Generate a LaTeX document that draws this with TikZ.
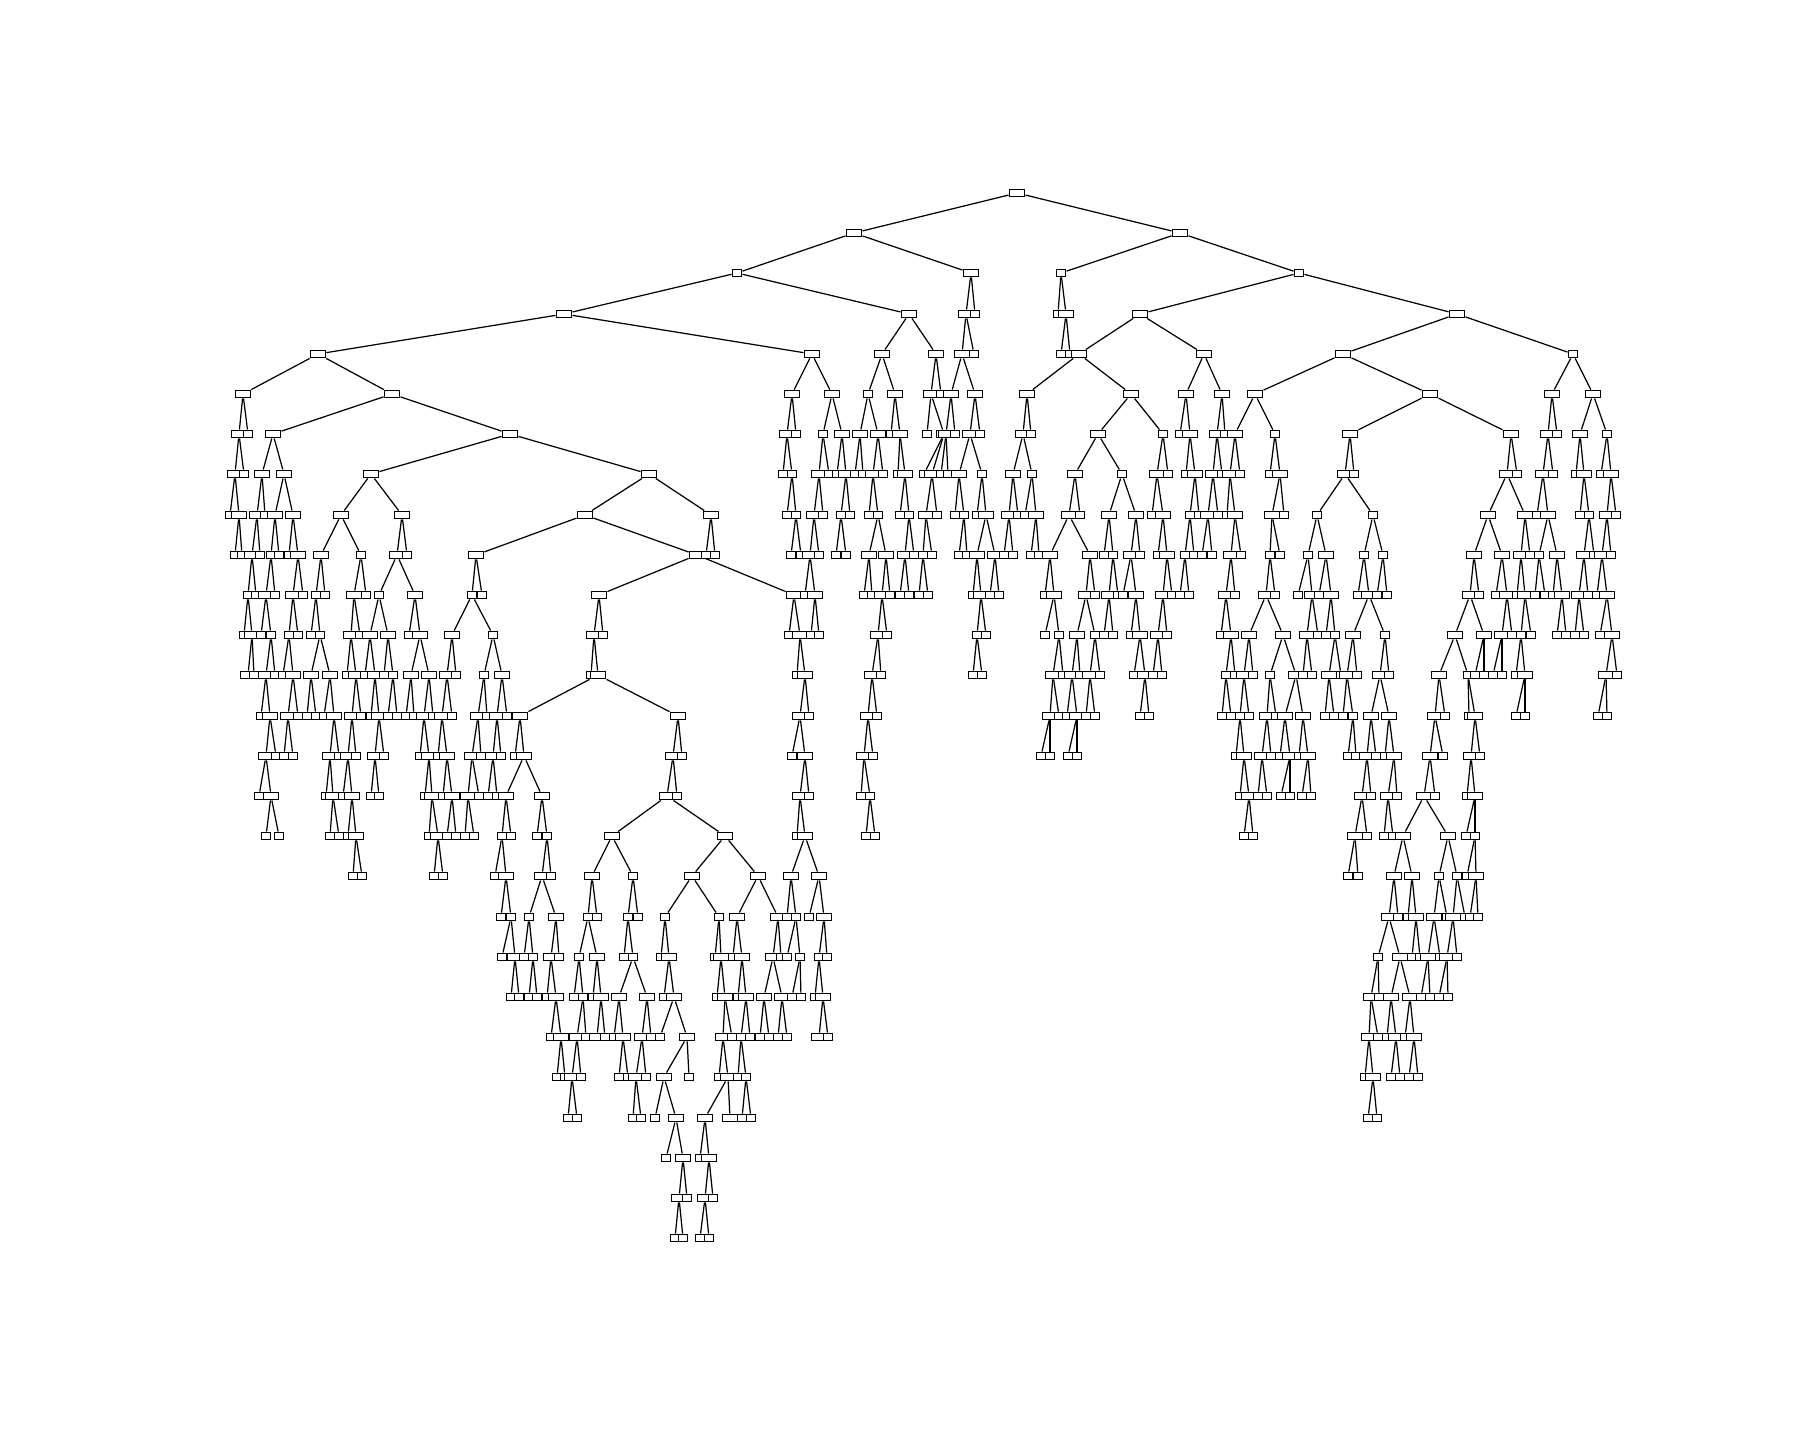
\documentclass[tikz,border=0pt]{standalone}
\usepackage{tikz}

\tikzset{
  leaf/.style={draw,fill=white,line width=0.55pt,inner sep=0pt,minimum width=0.9mm,minimum height=0.7mm},
  split/.style={leaf,minimum width=1.5mm},
}

\begin{document}
\begin{tikzpicture}[x=0.1mm,y=-0.1mm,line width=0.35pt]
\useasboundingbox (0,0) rectangle (1800,1440);
% level 0-4
\node[split] (n0x1017) at (1017,193) {};
\node[split] (n1x854) at (854,233) {};
\draw (n0x1017) -- (n1x854);
\node[split] (n1x1180) at (1180,233) {};
\draw (n0x1017) -- (n1x1180);
\node[leaf] (n2x737) at (737,273) {};
\draw (n1x854) -- (n2x737);
\node[split] (n2x971) at (971,273) {};
\draw (n1x854) -- (n2x971);
\node[leaf] (n2x1061) at (1061,273) {};
\draw (n1x1180) -- (n2x1061);
\node[leaf] (n2x1299) at (1299,273) {};
\draw (n1x1180) -- (n2x1299);
\node[split] (n3x564) at (564,314) {};
\draw (n2x737) -- (n3x564);
\node[split] (n3x909) at (909,314) {};
\draw (n2x737) -- (n3x909);
\node[split] (n3x966) at (966,314) {};
\draw (n2x971) -- (n3x966);
\node[leaf] (n3x975) at (975,314) {};
\draw (n2x971) -- (n3x975);
\node[leaf] (n3x1058) at (1058,314) {};
\draw (n2x1061) -- (n3x1058);
\node[split] (n3x1066) at (1066,314) {};
\draw (n2x1061) -- (n3x1066);
\node[split] (n3x1140) at (1140,314) {};
\draw (n2x1299) -- (n3x1140);
\node[split] (n3x1457) at (1457,314) {};
\draw (n2x1299) -- (n3x1457);
\node[split] (n4x318) at (318,354) {};
\draw (n3x564) -- (n4x318);
\node[split] (n4x812) at (812,354) {};
\draw (n3x564) -- (n4x812);
\node[split] (n4x882) at (882,354) {};
\draw (n3x909) -- (n4x882);
\node[split] (n4x936) at (936,354) {};
\draw (n3x909) -- (n4x936);
\node[split] (n4x962) at (962,354) {};
\draw (n3x966) -- (n4x962);
\node[leaf] (n4x974) at (974,354) {};
\draw (n3x966) -- (n4x974);
\node[leaf] (n4x1061) at (1061,354) {};
\draw (n3x1066) -- (n4x1061);
\node[leaf] (n4x1070) at (1070,354) {};
\draw (n3x1066) -- (n4x1070);
\node[split] (n4x1079) at (1079,354) {};
\draw (n3x1140) -- (n4x1079);
\node[split] (n4x1204) at (1204,354) {};
\draw (n3x1140) -- (n4x1204);
\node[split] (n4x1343) at (1343,354) {};
\draw (n3x1457) -- (n4x1343);
\node[leaf] (n4x1573) at (1573,354) {};
\draw (n3x1457) -- (n4x1573);
% level 5
\node[split] (n5x243) at (243,394) {};
\draw (n4x318) -- (n5x243);
\node[split] (n5x392) at (392,394) {};
\draw (n4x318) -- (n5x392);
\node[split] (n5x792) at (792,394) {};
\draw (n4x812) -- (n5x792);
\node[split] (n5x832) at (832,394) {};
\draw (n4x812) -- (n5x832);
\node[leaf] (n5x868) at (868,394) {};
\draw (n4x882) -- (n5x868);
\node[split] (n5x895) at (895,394) {};
\draw (n4x882) -- (n5x895);
\node[split] (n5x931) at (931,394) {};
\draw (n4x936) -- (n5x931);
\node[leaf] (n5x941) at (941,394) {};
\draw (n4x936) -- (n5x941);
\node[split] (n5x951) at (951,394) {};
\draw (n4x962) -- (n5x951);
\node[split] (n5x975) at (975,394) {};
\draw (n4x962) -- (n5x975);
\node[split] (n5x1027) at (1027,394) {};
\draw (n4x1079) -- (n5x1027);
\node[split] (n5x1131) at (1131,394) {};
\draw (n4x1079) -- (n5x1131);
\node[split] (n5x1186) at (1186,394) {};
\draw (n4x1204) -- (n5x1186);
\node[split] (n5x1222) at (1222,394) {};
\draw (n4x1204) -- (n5x1222);
\node[split] (n5x1255) at (1255,394) {};
\draw (n4x1343) -- (n5x1255);
\node[split] (n5x1430) at (1430,394) {};
\draw (n4x1343) -- (n5x1430);
\node[split] (n5x1552) at (1552,394) {};
\draw (n4x1573) -- (n5x1552);
\node[split] (n5x1593) at (1593,394) {};
\draw (n4x1573) -- (n5x1593);
% level 6
\node[split] (n6x239) at (239,434) {};
\draw (n5x243) -- (n6x239);
\node[leaf] (n6x248) at (248,434) {};
\draw (n5x243) -- (n6x248);
\node[split] (n6x273) at (273,434) {};
\draw (n5x392) -- (n6x273);
\node[split] (n6x510) at (510,434) {};
\draw (n5x392) -- (n6x510);
\node[split] (n6x787) at (787,434) {};
\draw (n5x792) -- (n6x787);
\node[leaf] (n6x796) at (796,434) {};
\draw (n5x792) -- (n6x796);
\node[leaf] (n6x823) at (823,434) {};
\draw (n5x832) -- (n6x823);
\node[split] (n6x842) at (842,434) {};
\draw (n5x832) -- (n6x842);
\node[split] (n6x860) at (860,434) {};
\draw (n5x868) -- (n6x860);
\node[split] (n6x878) at (878,434) {};
\draw (n5x868) -- (n6x878);
\node[leaf] (n6x891) at (891,434) {};
\draw (n5x895) -- (n6x891);
\node[split] (n6x900) at (900,434) {};
\draw (n5x895) -- (n6x900);
\node[leaf] (n6x927) at (927,434) {};
\draw (n5x931) -- (n6x927);
\node[split] (n6x944) at (944,434) {};
\draw (n5x931) -- (n6x944);
\node[split] (n6x946) at (946,434) {};
\draw (n5x951) -- (n6x946);
\node[leaf] (n6x955) at (955,434) {};
\draw (n5x951) -- (n6x955);
\node[split] (n6x970) at (970,434) {};
\draw (n5x975) -- (n6x970);
\node[leaf] (n6x980) at (980,434) {};
\draw (n5x975) -- (n6x980);
\node[split] (n6x1023) at (1023,434) {};
\draw (n5x1027) -- (n6x1023);
\node[leaf] (n6x1031) at (1031,434) {};
\draw (n5x1027) -- (n6x1031);
\node[split] (n6x1098) at (1098,434) {};
\draw (n5x1131) -- (n6x1098);
\node[leaf] (n6x1163) at (1163,434) {};
\draw (n5x1131) -- (n6x1163);
\node[leaf] (n6x1180) at (1180,434) {};
\draw (n5x1186) -- (n6x1180);
\node[split] (n6x1190) at (1190,434) {};
\draw (n5x1186) -- (n6x1190);
\node[split] (n6x1217) at (1217,434) {};
\draw (n5x1222) -- (n6x1217);
\node[leaf] (n6x1225) at (1225,434) {};
\draw (n5x1222) -- (n6x1225);
\node[split] (n6x1235) at (1235,434) {};
\draw (n5x1255) -- (n6x1235);
\node[leaf] (n6x1275) at (1275,434) {};
\draw (n5x1255) -- (n6x1275);
\node[split] (n6x1350) at (1350,434) {};
\draw (n5x1430) -- (n6x1350);
\node[split] (n6x1511) at (1511,434) {};
\draw (n5x1430) -- (n6x1511);
\node[split] (n6x1548) at (1548,434) {};
\draw (n5x1552) -- (n6x1548);
\node[leaf] (n6x1557) at (1557,434) {};
\draw (n5x1552) -- (n6x1557);
\node[split] (n6x1580) at (1580,434) {};
\draw (n5x1593) -- (n6x1580);
\node[leaf] (n6x1607) at (1607,434) {};
\draw (n5x1593) -- (n6x1607);
% level 7
\node[split] (n7x235) at (235,474) {};
\draw (n6x239) -- (n7x235);
\node[leaf] (n7x244) at (244,474) {};
\draw (n6x239) -- (n7x244);
\node[split] (n7x262) at (262,474) {};
\draw (n6x273) -- (n7x262);
\node[split] (n7x284) at (284,474) {};
\draw (n6x273) -- (n7x284);
\node[split] (n7x371) at (371,474) {};
\draw (n6x510) -- (n7x371);
\node[split] (n7x649) at (649,474) {};
\draw (n6x510) -- (n7x649);
\node[leaf] (n7x783) at (783,474) {};
\draw (n6x787) -- (n7x783);
\node[leaf] (n7x792) at (792,474) {};
\draw (n6x787) -- (n7x792);
\node[split] (n7x819) at (819,474) {};
\draw (n6x823) -- (n7x819);
\node[leaf] (n7x829) at (829,474) {};
\draw (n6x823) -- (n7x829);
\node[leaf] (n7x837) at (837,474) {};
\draw (n6x842) -- (n7x837);
\node[split] (n7x846) at (846,474) {};
\draw (n6x842) -- (n7x846);
\node[leaf] (n7x855) at (855,474) {};
\draw (n6x860) -- (n7x855);
\node[leaf] (n7x863) at (863,474) {};
\draw (n6x860) -- (n7x863);
\node[split] (n7x873) at (873,474) {};
\draw (n6x878) -- (n7x873);
\node[leaf] (n7x883) at (883,474) {};
\draw (n6x878) -- (n7x883);
\node[leaf] (n7x898) at (898,474) {};
\draw (n6x900) -- (n7x898);
\node[split] (n7x905) at (905,474) {};
\draw (n6x900) -- (n7x905);
\node[leaf] (n7x924) at (924,474) {};
\draw (n6x944) -- (n7x924);
\node[split] (n7x932) at (932,474) {};
\draw (n6x944) -- (n7x932);
\node[leaf] (n7x941) at (941,474) {};
\draw (n6x946) -- (n7x941);
\node[leaf] (n7x948) at (948,474) {};
\draw (n6x946) -- (n7x948);
\node[split] (n7x959) at (959,474) {};
\draw (n6x970) -- (n7x959);
\node[leaf] (n7x982) at (982,474) {};
\draw (n6x970) -- (n7x982);
\node[split] (n7x1013) at (1013,474) {};
\draw (n6x1023) -- (n7x1013);
\node[leaf] (n7x1032) at (1032,474) {};
\draw (n6x1023) -- (n7x1032);
\node[split] (n7x1075) at (1075,474) {};
\draw (n6x1098) -- (n7x1075);
\node[leaf] (n7x1122) at (1122,474) {};
\draw (n6x1098) -- (n7x1122);
\node[split] (n7x1157) at (1157,474) {};
\draw (n6x1163) -- (n7x1157);
\node[leaf] (n7x1168) at (1168,474) {};
\draw (n6x1163) -- (n7x1168);
\node[leaf] (n7x1186) at (1186,474) {};
\draw (n6x1190) -- (n7x1186);
\node[split] (n7x1195) at (1195,474) {};
\draw (n6x1190) -- (n7x1195);
\node[split] (n7x1213) at (1213,474) {};
\draw (n6x1217) -- (n7x1213);
\node[leaf] (n7x1222) at (1222,474) {};
\draw (n6x1217) -- (n7x1222);
\node[split] (n7x1230) at (1230,474) {};
\draw (n6x1235) -- (n7x1230);
\node[leaf] (n7x1240) at (1240,474) {};
\draw (n6x1235) -- (n7x1240);
\node[leaf] (n7x1270) at (1270,474) {};
\draw (n6x1275) -- (n7x1270);
\node[split] (n7x1280) at (1280,474) {};
\draw (n6x1275) -- (n7x1280);
\node[split] (n7x1345) at (1345,474) {};
\draw (n6x1350) -- (n7x1345);
\node[leaf] (n7x1354) at (1354,474) {};
\draw (n6x1350) -- (n7x1354);
\node[split] (n7x1507) at (1507,474) {};
\draw (n6x1511) -- (n7x1507);
\node[leaf] (n7x1517) at (1517,474) {};
\draw (n6x1511) -- (n7x1517);
\node[split] (n7x1543) at (1543,474) {};
\draw (n6x1548) -- (n7x1543);
\node[leaf] (n7x1553) at (1553,474) {};
\draw (n6x1548) -- (n7x1553);
\node[leaf] (n7x1576) at (1576,474) {};
\draw (n6x1580) -- (n7x1576);
\node[split] (n7x1584) at (1584,474) {};
\draw (n6x1580) -- (n7x1584);
\node[leaf] (n7x1601) at (1601,474) {};
\draw (n6x1607) -- (n7x1601);
\node[split] (n7x1611) at (1611,474) {};
\draw (n6x1607) -- (n7x1611);
% level 8
\node[leaf] (n8x230) at (230,515) {};
\draw (n7x235) -- (n8x230);
\node[split] (n8x239) at (239,515) {};
\draw (n7x235) -- (n8x239);
\node[split] (n8x257) at (257,515) {};
\draw (n7x262) -- (n8x257);
\node[leaf] (n8x265) at (265,515) {};
\draw (n7x262) -- (n8x265);
\node[split] (n8x275) at (275,515) {};
\draw (n7x284) -- (n8x275);
\node[split] (n8x293) at (293,515) {};
\draw (n7x284) -- (n8x293);
\node[split] (n8x341) at (341,515) {};
\draw (n7x371) -- (n8x341);
\node[split] (n8x402) at (402,515) {};
\draw (n7x371) -- (n8x402);
\node[split] (n8x585) at (585,515) {};
\draw (n7x649) -- (n8x585);
\node[split] (n8x711) at (711,515) {};
\draw (n7x649) -- (n8x711);
\node[leaf] (n8x787) at (787,515) {};
\draw (n7x792) -- (n8x787);
\node[leaf] (n8x796) at (796,515) {};
\draw (n7x792) -- (n8x796);
\node[split] (n8x814) at (814,515) {};
\draw (n7x819) -- (n8x814);
\node[leaf] (n8x823) at (823,515) {};
\draw (n7x819) -- (n8x823);
\node[leaf] (n8x841) at (841,515) {};
\draw (n7x846) -- (n8x841);
\node[leaf] (n8x850) at (850,515) {};
\draw (n7x846) -- (n8x850);
\node[leaf] (n8x869) at (869,515) {};
\draw (n7x873) -- (n8x869);
\node[leaf] (n8x878) at (878,515) {};
\draw (n7x873) -- (n8x878);
\node[leaf] (n8x900) at (900,515) {};
\draw (n7x905) -- (n8x900);
\node[leaf] (n8x909) at (909,515) {};
\draw (n7x905) -- (n8x909);
\node[split] (n8x926) at (926,515) {};
\draw (n7x932) -- (n8x926);
\node[leaf] (n8x937) at (937,515) {};
\draw (n7x932) -- (n8x937);
\node[leaf] (n8x955) at (955,515) {};
\draw (n7x959) -- (n8x955);
\node[leaf] (n8x964) at (964,515) {};
\draw (n7x959) -- (n8x964);
\node[leaf] (n8x977) at (977,515) {};
\draw (n7x982) -- (n8x977);
\node[split] (n8x986) at (986,515) {};
\draw (n7x982) -- (n8x986);
\node[split] (n8x1009) at (1009,515) {};
\draw (n7x1013) -- (n8x1009);
\node[leaf] (n8x1018) at (1018,515) {};
\draw (n7x1013) -- (n8x1018);
\node[leaf] (n8x1025) at (1025,515) {};
\draw (n7x1032) -- (n8x1025);
\node[split] (n8x1036) at (1036,515) {};
\draw (n7x1032) -- (n8x1036);
\node[split] (n8x1069) at (1069,515) {};
\draw (n7x1075) -- (n8x1069);
\node[leaf] (n8x1080) at (1080,515) {};
\draw (n7x1075) -- (n8x1080);
\node[split] (n8x1109) at (1109,515) {};
\draw (n7x1122) -- (n8x1109);
\node[split] (n8x1136) at (1136,515) {};
\draw (n7x1122) -- (n8x1136);
\node[leaf] (n8x1152) at (1152,515) {};
\draw (n7x1157) -- (n8x1152);
\node[split] (n8x1163) at (1163,515) {};
\draw (n7x1157) -- (n8x1163);
\node[leaf] (n8x1190) at (1190,515) {};
\draw (n7x1195) -- (n8x1190);
\node[leaf] (n8x1199) at (1199,515) {};
\draw (n7x1195) -- (n8x1199);
\node[split] (n8x1208) at (1208,515) {};
\draw (n7x1213) -- (n8x1208);
\node[leaf] (n8x1218) at (1218,515) {};
\draw (n7x1213) -- (n8x1218);
\node[leaf] (n8x1227) at (1227,515) {};
\draw (n7x1230) -- (n8x1227);
\node[split] (n8x1235) at (1235,515) {};
\draw (n7x1230) -- (n8x1235);
\node[split] (n8x1272) at (1272,515) {};
\draw (n7x1280) -- (n8x1272);
\node[leaf] (n8x1284) at (1284,515) {};
\draw (n7x1280) -- (n8x1284);
\node[leaf] (n8x1317) at (1317,515) {};
\draw (n7x1345) -- (n8x1317);
\node[leaf] (n8x1373) at (1373,515) {};
\draw (n7x1345) -- (n8x1373);
\node[split] (n8x1488) at (1488,515) {};
\draw (n7x1507) -- (n8x1488);
\node[split] (n8x1525) at (1525,515) {};
\draw (n7x1507) -- (n8x1525);
\node[leaf] (n8x1537) at (1537,515) {};
\draw (n7x1543) -- (n8x1537);
\node[split] (n8x1548) at (1548,515) {};
\draw (n7x1543) -- (n8x1548);
\node[leaf] (n8x1580) at (1580,515) {};
\draw (n7x1584) -- (n8x1580);
\node[leaf] (n8x1589) at (1589,515) {};
\draw (n7x1584) -- (n8x1589);
\node[split] (n8x1607) at (1607,515) {};
\draw (n7x1611) -- (n8x1607);
\node[leaf] (n8x1616) at (1616,515) {};
\draw (n7x1611) -- (n8x1616);
% level 9
\node[leaf] (n9x235) at (235,555) {};
\draw (n8x239) -- (n9x235);
\node[leaf] (n9x242) at (242,555) {};
\draw (n8x239) -- (n9x242);
\node[split] (n9x252) at (252,555) {};
\draw (n8x257) -- (n9x252);
\node[leaf] (n9x260) at (260,555) {};
\draw (n8x257) -- (n9x260);
\node[leaf] (n9x271) at (271,555) {};
\draw (n8x275) -- (n9x271);
\node[leaf] (n9x279) at (279,555) {};
\draw (n8x275) -- (n9x279);
\node[leaf] (n9x289) at (289,555) {};
\draw (n8x293) -- (n9x289);
\node[split] (n9x298) at (298,555) {};
\draw (n8x293) -- (n9x298);
\node[split] (n9x321) at (321,555) {};
\draw (n8x341) -- (n9x321);
\node[leaf] (n9x361) at (361,555) {};
\draw (n8x341) -- (n9x361);
\node[split] (n9x397) at (397,555) {};
\draw (n8x402) -- (n9x397);
\node[leaf] (n9x407) at (407,555) {};
\draw (n8x402) -- (n9x407);
\node[split] (n9x476) at (476,555) {};
\draw (n8x585) -- (n9x476);
\node[split] (n9x697) at (697,555) {};
\draw (n8x585) -- (n9x697);
\node[leaf] (n9x706) at (706,555) {};
\draw (n8x711) -- (n9x706);
\node[leaf] (n9x715) at (715,555) {};
\draw (n8x711) -- (n9x715);
\node[leaf] (n9x791) at (791,555) {};
\draw (n8x796) -- (n9x791);
\node[leaf] (n9x801) at (801,555) {};
\draw (n8x796) -- (n9x801);
\node[split] (n9x810) at (810,555) {};
\draw (n8x814) -- (n9x810);
\node[leaf] (n9x819) at (819,555) {};
\draw (n8x814) -- (n9x819);
\node[leaf] (n9x836) at (836,555) {};
\draw (n8x841) -- (n9x836);
\node[leaf] (n9x846) at (846,555) {};
\draw (n8x841) -- (n9x846);
\node[split] (n9x869) at (869,555) {};
\draw (n8x878) -- (n9x869);
\node[split] (n9x886) at (886,555) {};
\draw (n8x878) -- (n9x886);
\node[split] (n9x905) at (905,555) {};
\draw (n8x909) -- (n9x905);
\node[leaf] (n9x914) at (914,555) {};
\draw (n8x909) -- (n9x914);
\node[leaf] (n9x923) at (923,555) {};
\draw (n8x926) -- (n9x923);
\node[leaf] (n9x932) at (932,555) {};
\draw (n8x926) -- (n9x932);
\node[leaf] (n9x959) at (959,555) {};
\draw (n8x964) -- (n9x959);
\node[leaf] (n9x967) at (967,555) {};
\draw (n8x964) -- (n9x967);
\node[split] (n9x977) at (977,555) {};
\draw (n8x986) -- (n9x977);
\node[split] (n9x995) at (995,555) {};
\draw (n8x986) -- (n9x995);
\node[leaf] (n9x1004) at (1004,555) {};
\draw (n8x1009) -- (n9x1004);
\node[leaf] (n9x1013) at (1013,555) {};
\draw (n8x1009) -- (n9x1013);
\node[leaf] (n9x1031) at (1031,555) {};
\draw (n8x1036) -- (n9x1031);
\node[leaf] (n9x1039) at (1039,555) {};
\draw (n8x1036) -- (n9x1039);
\node[split] (n9x1050) at (1050,555) {};
\draw (n8x1069) -- (n9x1050);
\node[split] (n9x1090) at (1090,555) {};
\draw (n8x1069) -- (n9x1090);
\node[leaf] (n9x1104) at (1104,555) {};
\draw (n8x1109) -- (n9x1104);
\node[leaf] (n9x1113) at (1113,555) {};
\draw (n8x1109) -- (n9x1113);
\node[split] (n9x1131) at (1131,555) {};
\draw (n8x1136) -- (n9x1131);
\node[leaf] (n9x1140) at (1140,555) {};
\draw (n8x1136) -- (n9x1140);
\node[leaf] (n9x1158) at (1158,555) {};
\draw (n8x1163) -- (n9x1158);
\node[split] (n9x1167) at (1167,555) {};
\draw (n8x1163) -- (n9x1167);
\node[leaf] (n9x1185) at (1185,555) {};
\draw (n8x1190) -- (n9x1185);
\node[leaf] (n9x1194) at (1194,555) {};
\draw (n8x1190) -- (n9x1194);
\node[leaf] (n9x1202) at (1202,555) {};
\draw (n8x1208) -- (n9x1202);
\node[leaf] (n9x1212) at (1212,555) {};
\draw (n8x1208) -- (n9x1212);
\node[split] (n9x1231) at (1231,555) {};
\draw (n8x1235) -- (n9x1231);
\node[leaf] (n9x1241) at (1241,555) {};
\draw (n8x1235) -- (n9x1241);
\node[leaf] (n9x1270) at (1270,555) {};
\draw (n8x1272) -- (n9x1270);
\node[leaf] (n9x1280) at (1280,555) {};
\draw (n8x1272) -- (n9x1280);
\node[leaf] (n9x1308) at (1308,555) {};
\draw (n8x1317) -- (n9x1308);
\node[split] (n9x1326) at (1326,555) {};
\draw (n8x1317) -- (n9x1326);
\node[leaf] (n9x1364) at (1364,555) {};
\draw (n8x1373) -- (n9x1364);
\node[leaf] (n9x1383) at (1383,555) {};
\draw (n8x1373) -- (n9x1383);
\node[split] (n9x1474) at (1474,555) {};
\draw (n8x1488) -- (n9x1474);
\node[split] (n9x1502) at (1502,555) {};
\draw (n8x1488) -- (n9x1502);
\node[split] (n9x1521) at (1521,555) {};
\draw (n8x1525) -- (n9x1521);
\node[leaf] (n9x1530) at (1530,555) {};
\draw (n8x1525) -- (n9x1530);
\node[leaf] (n9x1539) at (1539,555) {};
\draw (n8x1548) -- (n9x1539);
\node[split] (n9x1557) at (1557,555) {};
\draw (n8x1548) -- (n9x1557);
\node[split] (n9x1584) at (1584,555) {};
\draw (n8x1589) -- (n9x1584);
\node[leaf] (n9x1594) at (1594,555) {};
\draw (n8x1589) -- (n9x1594);
\node[split] (n9x1602) at (1602,555) {};
\draw (n8x1607) -- (n9x1602);
\node[leaf] (n9x1611) at (1611,555) {};
\draw (n8x1607) -- (n9x1611);
% level 10
\node[leaf] (n10x248) at (248,595) {};
\draw (n9x252) -- (n10x248);
\node[leaf] (n10x256) at (256,595) {};
\draw (n9x252) -- (n10x256);
\node[split] (n10x266) at (266,595) {};
\draw (n9x271) -- (n10x266);
\node[leaf] (n10x275) at (275,595) {};
\draw (n9x271) -- (n10x275);
\node[split] (n10x293) at (293,595) {};
\draw (n9x298) -- (n10x293);
\node[leaf] (n10x303) at (303,595) {};
\draw (n9x298) -- (n10x303);
\node[leaf] (n10x316) at (316,595) {};
\draw (n9x321) -- (n10x316);
\node[leaf] (n10x325) at (325,595) {};
\draw (n9x321) -- (n10x325);
\node[split] (n10x354) at (354,595) {};
\draw (n9x361) -- (n10x354);
\node[leaf] (n10x366) at (366,595) {};
\draw (n9x361) -- (n10x366);
\node[leaf] (n10x379) at (379,595) {};
\draw (n9x397) -- (n10x379);
\node[split] (n10x415) at (415,595) {};
\draw (n9x397) -- (n10x415);
\node[leaf] (n10x472) at (472,595) {};
\draw (n9x476) -- (n10x472);
\node[leaf] (n10x482) at (482,595) {};
\draw (n9x476) -- (n10x482);
\node[split] (n10x599) at (599,595) {};
\draw (n9x697) -- (n10x599);
\node[split] (n10x794) at (794,595) {};
\draw (n9x697) -- (n10x794);
\node[leaf] (n10x805) at (805,595) {};
\draw (n9x810) -- (n10x805);
\node[split] (n10x815) at (815,595) {};
\draw (n9x810) -- (n10x815);
\node[leaf] (n10x864) at (864,595) {};
\draw (n9x869) -- (n10x864);
\node[leaf] (n10x872) at (872,595) {};
\draw (n9x869) -- (n10x872);
\node[split] (n10x882) at (882,595) {};
\draw (n9x886) -- (n10x882);
\node[leaf] (n10x890) at (890,595) {};
\draw (n9x886) -- (n10x890);
\node[leaf] (n10x900) at (900,595) {};
\draw (n9x905) -- (n10x900);
\node[leaf] (n10x909) at (909,595) {};
\draw (n9x905) -- (n10x909);
\node[leaf] (n10x919) at (919,595) {};
\draw (n9x923) -- (n10x919);
\node[leaf] (n10x928) at (928,595) {};
\draw (n9x923) -- (n10x928);
\node[leaf] (n10x973) at (973,595) {};
\draw (n9x977) -- (n10x973);
\node[split] (n10x981) at (981,595) {};
\draw (n9x977) -- (n10x981);
\node[leaf] (n10x990) at (990,595) {};
\draw (n9x995) -- (n10x990);
\node[leaf] (n10x999) at (999,595) {};
\draw (n9x995) -- (n10x999);
\node[leaf] (n10x1045) at (1045,595) {};
\draw (n9x1050) -- (n10x1045);
\node[split] (n10x1054) at (1054,595) {};
\draw (n9x1050) -- (n10x1054);
\node[split] (n10x1086) at (1086,595) {};
\draw (n9x1090) -- (n10x1086);
\node[leaf] (n10x1095) at (1095,595) {};
\draw (n9x1090) -- (n10x1095);
\node[split] (n10x1109) at (1109,595) {};
\draw (n9x1113) -- (n10x1109);
\node[leaf] (n10x1118) at (1118,595) {};
\draw (n9x1113) -- (n10x1118);
\node[leaf] (n10x1123) at (1123,595) {};
\draw (n9x1131) -- (n10x1123);
\node[split] (n10x1136) at (1136,595) {};
\draw (n9x1131) -- (n10x1136);
\node[split] (n10x1163) at (1163,595) {};
\draw (n9x1167) -- (n10x1163);
\node[leaf] (n10x1172) at (1172,595) {};
\draw (n9x1167) -- (n10x1172);
\node[leaf] (n10x1180) at (1180,595) {};
\draw (n9x1185) -- (n10x1180);
\node[leaf] (n10x1189) at (1189,595) {};
\draw (n9x1185) -- (n10x1189);
\node[split] (n10x1226) at (1226,595) {};
\draw (n9x1231) -- (n10x1226);
\node[leaf] (n10x1235) at (1235,595) {};
\draw (n9x1231) -- (n10x1235);
\node[split] (n10x1266) at (1266,595) {};
\draw (n9x1270) -- (n10x1266);
\node[leaf] (n10x1275) at (1275,595) {};
\draw (n9x1270) -- (n10x1275);
\node[leaf] (n10x1298) at (1298,595) {};
\draw (n9x1308) -- (n10x1298);
\node[split] (n10x1312) at (1312,595) {};
\draw (n9x1308) -- (n10x1312);
\node[leaf] (n10x1319) at (1319,595) {};
\draw (n9x1326) -- (n10x1319);
\node[split] (n10x1331) at (1331,595) {};
\draw (n9x1326) -- (n10x1331);
\node[leaf] (n10x1358) at (1358,595) {};
\draw (n9x1364) -- (n10x1358);
\node[split] (n10x1369) at (1369,595) {};
\draw (n9x1364) -- (n10x1369);
\node[leaf] (n10x1377) at (1377,595) {};
\draw (n9x1383) -- (n10x1377);
\node[leaf] (n10x1387) at (1387,595) {};
\draw (n9x1383) -- (n10x1387);
\node[split] (n10x1470) at (1470,595) {};
\draw (n9x1474) -- (n10x1470);
\node[leaf] (n10x1479) at (1479,595) {};
\draw (n9x1474) -- (n10x1479);
\node[leaf] (n10x1496) at (1496,595) {};
\draw (n9x1502) -- (n10x1496);
\node[split] (n10x1507) at (1507,595) {};
\draw (n9x1502) -- (n10x1507);
\node[leaf] (n10x1517) at (1517,595) {};
\draw (n9x1521) -- (n10x1517);
\node[split] (n10x1525) at (1525,595) {};
\draw (n9x1521) -- (n10x1525);
\node[leaf] (n10x1535) at (1535,595) {};
\draw (n9x1539) -- (n10x1535);
\node[leaf] (n10x1545) at (1545,595) {};
\draw (n9x1539) -- (n10x1545);
\node[leaf] (n10x1553) at (1553,595) {};
\draw (n9x1557) -- (n10x1553);
\node[split] (n10x1562) at (1562,595) {};
\draw (n9x1557) -- (n10x1562);
\node[split] (n10x1579) at (1579,595) {};
\draw (n9x1584) -- (n10x1579);
\node[leaf] (n10x1588) at (1588,595) {};
\draw (n9x1584) -- (n10x1588);
\node[leaf] (n10x1597) at (1597,595) {};
\draw (n9x1602) -- (n10x1597);
\node[split] (n10x1607) at (1607,595) {};
\draw (n9x1602) -- (n10x1607);
% level 11
\node[leaf] (n11x244) at (244,635) {};
\draw (n10x248) -- (n11x244);
\node[split] (n11x252) at (252,635) {};
\draw (n10x248) -- (n11x252);
\node[leaf] (n11x261) at (261,635) {};
\draw (n10x266) -- (n11x261);
\node[leaf] (n11x271) at (271,635) {};
\draw (n10x266) -- (n11x271);
\node[leaf] (n11x289) at (289,635) {};
\draw (n10x293) -- (n11x289);
\node[leaf] (n11x298) at (298,635) {};
\draw (n10x293) -- (n11x298);
\node[leaf] (n11x311) at (311,635) {};
\draw (n10x316) -- (n11x311);
\node[leaf] (n11x320) at (320,635) {};
\draw (n10x316) -- (n11x320);
\node[split] (n11x351) at (351,635) {};
\draw (n10x354) -- (n11x351);
\node[leaf] (n11x360) at (360,635) {};
\draw (n10x354) -- (n11x360);
\node[split] (n11x370) at (370,635) {};
\draw (n10x379) -- (n11x370);
\node[split] (n11x388) at (388,635) {};
\draw (n10x379) -- (n11x388);
\node[leaf] (n11x409) at (409,635) {};
\draw (n10x415) -- (n11x409);
\node[split] (n11x420) at (420,635) {};
\draw (n10x415) -- (n11x420);
\node[split] (n11x452) at (452,635) {};
\draw (n10x472) -- (n11x452);
\node[leaf] (n11x493) at (493,635) {};
\draw (n10x472) -- (n11x493);
\node[split] (n11x594) at (594,635) {};
\draw (n10x599) -- (n11x594);
\node[leaf] (n11x603) at (603,635) {};
\draw (n10x599) -- (n11x603);
\node[leaf] (n11x789) at (789,635) {};
\draw (n10x794) -- (n11x789);
\node[split] (n11x800) at (800,635) {};
\draw (n10x794) -- (n11x800);
\node[leaf] (n11x811) at (811,635) {};
\draw (n10x815) -- (n11x811);
\node[leaf] (n11x819) at (819,635) {};
\draw (n10x815) -- (n11x819);
\node[split] (n11x878) at (878,635) {};
\draw (n10x882) -- (n11x878);
\node[leaf] (n11x887) at (887,635) {};
\draw (n10x882) -- (n11x887);
\node[leaf] (n11x977) at (977,635) {};
\draw (n10x981) -- (n11x977);
\node[leaf] (n11x986) at (986,635) {};
\draw (n10x981) -- (n11x986);
\node[leaf] (n11x1045) at (1045,635) {};
\draw (n10x1054) -- (n11x1045);
\node[leaf] (n11x1059) at (1059,635) {};
\draw (n10x1054) -- (n11x1059);
\node[split] (n11x1077) at (1077,635) {};
\draw (n10x1086) -- (n11x1077);
\node[leaf] (n11x1095) at (1095,635) {};
\draw (n10x1086) -- (n11x1095);
\node[leaf] (n11x1104) at (1104,635) {};
\draw (n10x1109) -- (n11x1104);
\node[leaf] (n11x1113) at (1113,635) {};
\draw (n10x1109) -- (n11x1113);
\node[leaf] (n11x1131) at (1131,635) {};
\draw (n10x1136) -- (n11x1131);
\node[split] (n11x1140) at (1140,635) {};
\draw (n10x1136) -- (n11x1140);
\node[split] (n11x1158) at (1158,635) {};
\draw (n10x1163) -- (n11x1158);
\node[leaf] (n11x1167) at (1167,635) {};
\draw (n10x1163) -- (n11x1167);
\node[leaf] (n11x1221) at (1221,635) {};
\draw (n10x1226) -- (n11x1221);
\node[split] (n11x1231) at (1231,635) {};
\draw (n10x1226) -- (n11x1231);
\node[split] (n11x1249) at (1249,635) {};
\draw (n10x1266) -- (n11x1249);
\node[split] (n11x1283) at (1283,635) {};
\draw (n10x1266) -- (n11x1283);
\node[split] (n11x1307) at (1307,635) {};
\draw (n10x1312) -- (n11x1307);
\node[leaf] (n11x1318) at (1318,635) {};
\draw (n10x1312) -- (n11x1318);
\node[leaf] (n11x1326) at (1326,635) {};
\draw (n10x1331) -- (n11x1326);
\node[leaf] (n11x1335) at (1335,635) {};
\draw (n10x1331) -- (n11x1335);
\node[split] (n11x1353) at (1353,635) {};
\draw (n10x1369) -- (n11x1353);
\node[leaf] (n11x1385) at (1385,635) {};
\draw (n10x1369) -- (n11x1385);
\node[split] (n11x1455) at (1455,635) {};
\draw (n10x1470) -- (n11x1455);
\node[split] (n11x1484) at (1484,635) {};
\draw (n10x1470) -- (n11x1484);
\node[split] (n11x1502) at (1502,635) {};
\draw (n10x1507) -- (n11x1502);
\node[leaf] (n11x1512) at (1512,635) {};
\draw (n10x1507) -- (n11x1512);
\node[leaf] (n11x1521) at (1521,635) {};
\draw (n10x1525) -- (n11x1521);
\node[leaf] (n11x1531) at (1531,635) {};
\draw (n10x1525) -- (n11x1531);
\node[leaf] (n11x1557) at (1557,635) {};
\draw (n10x1562) -- (n11x1557);
\node[leaf] (n11x1566) at (1566,635) {};
\draw (n10x1562) -- (n11x1566);
\node[leaf] (n11x1575) at (1575,635) {};
\draw (n10x1579) -- (n11x1575);
\node[leaf] (n11x1584) at (1584,635) {};
\draw (n10x1579) -- (n11x1584);
\node[leaf] (n11x1600) at (1600,635) {};
\draw (n10x1607) -- (n11x1600);
\node[split] (n11x1612) at (1612,635) {};
\draw (n10x1607) -- (n11x1612);
% level 12
\node[split] (n12x248) at (248,675) {};
\draw (n11x252) -- (n12x248);
\node[leaf] (n12x254) at (254,675) {};
\draw (n11x252) -- (n12x254);
\node[split] (n12x266) at (266,675) {};
\draw (n11x271) -- (n12x266);
\node[leaf] (n12x275) at (275,675) {};
\draw (n11x271) -- (n12x275);
\node[leaf] (n12x283) at (283,675) {};
\draw (n11x289) -- (n12x283);
\node[split] (n12x293) at (293,675) {};
\draw (n11x289) -- (n12x293);
\node[split] (n12x311) at (311,675) {};
\draw (n11x320) -- (n12x311);
\node[split] (n12x330) at (330,675) {};
\draw (n11x320) -- (n12x330);
\node[leaf] (n12x347) at (347,675) {};
\draw (n11x351) -- (n12x347);
\node[split] (n12x356) at (356,675) {};
\draw (n11x351) -- (n12x356);
\node[leaf] (n12x365) at (365,675) {};
\draw (n11x370) -- (n12x365);
\node[split] (n12x375) at (375,675) {};
\draw (n11x370) -- (n12x375);
\node[leaf] (n12x384) at (384,675) {};
\draw (n11x388) -- (n12x384);
\node[leaf] (n12x393) at (393,675) {};
\draw (n11x388) -- (n12x393);
\node[split] (n12x411) at (411,675) {};
\draw (n11x420) -- (n12x411);
\node[split] (n12x429) at (429,675) {};
\draw (n11x420) -- (n12x429);
\node[split] (n12x447) at (447,675) {};
\draw (n11x452) -- (n12x447);
\node[leaf] (n12x456) at (456,675) {};
\draw (n11x452) -- (n12x456);
\node[leaf] (n12x484) at (484,675) {};
\draw (n11x493) -- (n12x484);
\node[split] (n12x502) at (502,675) {};
\draw (n11x493) -- (n12x502);
\node[leaf] (n12x591) at (591,675) {};
\draw (n11x594) -- (n12x591);
\node[split] (n12x598) at (598,675) {};
\draw (n11x594) -- (n12x598);
\node[leaf] (n12x797) at (797,675) {};
\draw (n11x800) -- (n12x797);
\node[split] (n12x805) at (805,675) {};
\draw (n11x800) -- (n12x805);
\node[split] (n12x872) at (872,675) {};
\draw (n11x878) -- (n12x872);
\node[leaf] (n12x881) at (881,675) {};
\draw (n11x878) -- (n12x881);
\node[leaf] (n12x973) at (973,675) {};
\draw (n11x977) -- (n12x973);
\node[leaf] (n12x982) at (982,675) {};
\draw (n11x977) -- (n12x982);
\node[split] (n12x1053) at (1053,675) {};
\draw (n11x1059) -- (n12x1053);
\node[leaf] (n12x1063) at (1063,675) {};
\draw (n11x1059) -- (n12x1063);
\node[split] (n12x1072) at (1072,675) {};
\draw (n11x1077) -- (n12x1072);
\node[leaf] (n12x1080) at (1080,675) {};
\draw (n11x1077) -- (n12x1080);
\node[split] (n12x1090) at (1090,675) {};
\draw (n11x1095) -- (n12x1090);
\node[leaf] (n12x1100) at (1100,675) {};
\draw (n11x1095) -- (n12x1100);
\node[leaf] (n12x1134) at (1134,675) {};
\draw (n11x1140) -- (n12x1134);
\node[split] (n12x1145) at (1145,675) {};
\draw (n11x1140) -- (n12x1145);
\node[leaf] (n12x1153) at (1153,675) {};
\draw (n11x1158) -- (n12x1153);
\node[leaf] (n12x1162) at (1162,675) {};
\draw (n11x1158) -- (n12x1162);
\node[leaf] (n12x1226) at (1226,675) {};
\draw (n11x1231) -- (n12x1226);
\node[leaf] (n12x1235) at (1235,675) {};
\draw (n11x1231) -- (n12x1235);
\node[split] (n12x1244) at (1244,675) {};
\draw (n11x1249) -- (n12x1244);
\node[leaf] (n12x1253) at (1253,675) {};
\draw (n11x1249) -- (n12x1253);
\node[leaf] (n12x1270) at (1270,675) {};
\draw (n11x1283) -- (n12x1270);
\node[split] (n12x1296) at (1296,675) {};
\draw (n11x1283) -- (n12x1296);
\node[leaf] (n12x1303) at (1303,675) {};
\draw (n11x1307) -- (n12x1303);
\node[leaf] (n12x1312) at (1312,675) {};
\draw (n11x1307) -- (n12x1312);
\node[split] (n12x1329) at (1329,675) {};
\draw (n11x1335) -- (n12x1329);
\node[leaf] (n12x1341) at (1341,675) {};
\draw (n11x1335) -- (n12x1341);
\node[split] (n12x1347) at (1347,675) {};
\draw (n11x1353) -- (n12x1347);
\node[leaf] (n12x1357) at (1357,675) {};
\draw (n11x1353) -- (n12x1357);
\node[split] (n12x1380) at (1380,675) {};
\draw (n11x1385) -- (n12x1380);
\node[leaf] (n12x1389) at (1389,675) {};
\draw (n11x1385) -- (n12x1389);
\node[split] (n12x1439) at (1439,675) {};
\draw (n11x1455) -- (n12x1439);
\node[leaf] (n12x1468) at (1468,675) {};
\draw (n11x1455) -- (n12x1468);
\node[leaf] (n12x1475) at (1475,675) {};
\draw (n11x1484) -- (n12x1475);
\node[leaf] (n12x1484) at (1484,675) {};
\draw (n11x1484) -- (n12x1484);
\node[leaf] (n12x1493) at (1493,675) {};
\draw (n11x1502) -- (n12x1493);
\node[leaf] (n12x1502) at (1502,675) {};
\draw (n11x1502) -- (n12x1502);
\node[leaf] (n12x1516) at (1516,675) {};
\draw (n11x1521) -- (n12x1516);
\node[split] (n12x1525) at (1525,675) {};
\draw (n11x1521) -- (n12x1525);
\node[split] (n12x1606) at (1606,675) {};
\draw (n11x1612) -- (n12x1606);
\node[leaf] (n12x1617) at (1617,675) {};
\draw (n11x1612) -- (n12x1617);
% level 13
\node[leaf] (n13x261) at (261,716) {};
\draw (n12x266) -- (n13x261);
\node[split] (n13x270) at (270,716) {};
\draw (n12x266) -- (n13x270);
\node[split] (n13x288) at (288,716) {};
\draw (n12x293) -- (n13x288);
\node[leaf] (n13x298) at (298,716) {};
\draw (n12x293) -- (n13x298);
\node[leaf] (n13x307) at (307,716) {};
\draw (n12x311) -- (n13x307);
\node[leaf] (n13x316) at (316,716) {};
\draw (n12x311) -- (n13x316);
\node[leaf] (n13x324) at (324,716) {};
\draw (n12x330) -- (n13x324);
\node[split] (n13x334) at (334,716) {};
\draw (n12x330) -- (n13x334);
\node[split] (n13x352) at (352,716) {};
\draw (n12x356) -- (n13x352);
\node[leaf] (n13x361) at (361,716) {};
\draw (n12x356) -- (n13x361);
\node[leaf] (n13x371) at (371,716) {};
\draw (n12x375) -- (n13x371);
\node[split] (n13x379) at (379,716) {};
\draw (n12x375) -- (n13x379);
\node[leaf] (n13x388) at (388,716) {};
\draw (n12x393) -- (n13x388);
\node[leaf] (n13x397) at (397,716) {};
\draw (n12x393) -- (n13x397);
\node[leaf] (n13x406) at (406,716) {};
\draw (n12x411) -- (n13x406);
\node[leaf] (n13x414) at (414,716) {};
\draw (n12x411) -- (n13x414);
\node[split] (n13x424) at (424,716) {};
\draw (n12x429) -- (n13x424);
\node[leaf] (n13x433) at (433,716) {};
\draw (n12x429) -- (n13x433);
\node[split] (n13x442) at (442,716) {};
\draw (n12x447) -- (n13x442);
\node[leaf] (n13x452) at (452,716) {};
\draw (n12x447) -- (n13x452);
\node[split] (n13x478) at (478,716) {};
\draw (n12x484) -- (n13x478);
\node[leaf] (n13x487) at (487,716) {};
\draw (n12x484) -- (n13x487);
\node[split] (n13x497) at (497,716) {};
\draw (n12x502) -- (n13x497);
\node[leaf] (n13x507) at (507,716) {};
\draw (n12x502) -- (n13x507);
\node[split] (n13x520) at (520,716) {};
\draw (n12x598) -- (n13x520);
\node[split] (n13x678) at (678,716) {};
\draw (n12x598) -- (n13x678);
\node[split] (n13x800) at (800,716) {};
\draw (n12x805) -- (n13x800);
\node[leaf] (n13x809) at (809,716) {};
\draw (n12x805) -- (n13x809);
\node[split] (n13x868) at (868,716) {};
\draw (n12x872) -- (n13x868);
\node[leaf] (n13x877) at (877,716) {};
\draw (n12x872) -- (n13x877);
\node[split] (n13x1050) at (1050,716) {};
\draw (n12x1053) -- (n13x1050);
\node[leaf] (n13x1059) at (1059,716) {};
\draw (n12x1053) -- (n13x1059);
\node[leaf] (n13x1067) at (1067,716) {};
\draw (n12x1072) -- (n13x1067);
\node[split] (n13x1077) at (1077,716) {};
\draw (n12x1072) -- (n13x1077);
\node[leaf] (n13x1086) at (1086,716) {};
\draw (n12x1090) -- (n13x1086);
\node[leaf] (n13x1095) at (1095,716) {};
\draw (n12x1090) -- (n13x1095);
\node[leaf] (n13x1140) at (1140,716) {};
\draw (n12x1145) -- (n13x1140);
\node[leaf] (n13x1149) at (1149,716) {};
\draw (n12x1145) -- (n13x1149);
\node[leaf] (n13x1222) at (1222,716) {};
\draw (n12x1226) -- (n13x1222);
\node[leaf] (n13x1231) at (1231,716) {};
\draw (n12x1226) -- (n13x1231);
\node[leaf] (n13x1240) at (1240,716) {};
\draw (n12x1244) -- (n13x1240);
\node[leaf] (n13x1249) at (1249,716) {};
\draw (n12x1244) -- (n13x1249);
\node[split] (n13x1267) at (1267,716) {};
\draw (n12x1270) -- (n13x1267);
\node[leaf] (n13x1276) at (1276,716) {};
\draw (n12x1270) -- (n13x1276);
\node[split] (n13x1285) at (1285,716) {};
\draw (n12x1296) -- (n13x1285);
\node[split] (n13x1303) at (1303,716) {};
\draw (n12x1296) -- (n13x1303);
\node[leaf] (n13x1325) at (1325,716) {};
\draw (n12x1329) -- (n13x1325);
\node[leaf] (n13x1334) at (1334,716) {};
\draw (n12x1329) -- (n13x1334);
\node[leaf] (n13x1343) at (1343,716) {};
\draw (n12x1347) -- (n13x1343);
\node[leaf] (n13x1353) at (1353,716) {};
\draw (n12x1347) -- (n13x1353);
\node[split] (n13x1371) at (1371,716) {};
\draw (n12x1380) -- (n13x1371);
\node[split] (n13x1389) at (1389,716) {};
\draw (n12x1380) -- (n13x1389);
\node[split] (n13x1435) at (1435,716) {};
\draw (n12x1439) -- (n13x1435);
\node[leaf] (n13x1445) at (1445,716) {};
\draw (n12x1439) -- (n13x1445);
\node[leaf] (n13x1469) at (1469,716) {};
\draw (n12x1468) -- (n13x1469);
\node[split] (n13x1475) at (1475,716) {};
\draw (n12x1468) -- (n13x1475);
\node[leaf] (n13x1516) at (1516,716) {};
\draw (n12x1525) -- (n13x1516);
\node[leaf] (n13x1525) at (1525,716) {};
\draw (n12x1525) -- (n13x1525);
\node[leaf] (n13x1598) at (1598,716) {};
\draw (n12x1606) -- (n13x1598);
\node[leaf] (n13x1607) at (1607,716) {};
\draw (n12x1606) -- (n13x1607);
% level 14
\node[split] (n14x266) at (266,756) {};
\draw (n13x270) -- (n14x266);
\node[leaf] (n14x276) at (276,756) {};
\draw (n13x270) -- (n14x276);
\node[leaf] (n14x284) at (284,756) {};
\draw (n13x288) -- (n14x284);
\node[leaf] (n14x293) at (293,756) {};
\draw (n13x288) -- (n14x293);
\node[split] (n14x330) at (330,756) {};
\draw (n13x334) -- (n14x330);
\node[leaf] (n14x339) at (339,756) {};
\draw (n13x334) -- (n14x339);
\node[split] (n14x348) at (348,756) {};
\draw (n13x352) -- (n14x348);
\node[leaf] (n14x356) at (356,756) {};
\draw (n13x352) -- (n14x356);
\node[split] (n14x375) at (375,756) {};
\draw (n13x379) -- (n14x375);
\node[leaf] (n14x384) at (384,756) {};
\draw (n13x379) -- (n14x384);
\node[leaf] (n14x420) at (420,756) {};
\draw (n13x424) -- (n14x420);
\node[split] (n14x429) at (429,756) {};
\draw (n13x424) -- (n14x429);
\node[leaf] (n14x438) at (438,756) {};
\draw (n13x442) -- (n14x438);
\node[split] (n14x447) at (447,756) {};
\draw (n13x442) -- (n14x447);
\node[split] (n14x472) at (472,756) {};
\draw (n13x478) -- (n14x472);
\node[leaf] (n14x481) at (481,756) {};
\draw (n13x478) -- (n14x481);
\node[split] (n14x493) at (493,756) {};
\draw (n13x497) -- (n14x493);
\node[leaf] (n14x501) at (501,756) {};
\draw (n13x497) -- (n14x501);
\node[leaf] (n14x515) at (515,756) {};
\draw (n13x520) -- (n14x515);
\node[split] (n14x524) at (524,756) {};
\draw (n13x520) -- (n14x524);
\node[split] (n14x673) at (673,756) {};
\draw (n13x678) -- (n14x673);
\node[leaf] (n14x682) at (682,756) {};
\draw (n13x678) -- (n14x682);
\node[leaf] (n14x792) at (792,756) {};
\draw (n13x800) -- (n14x792);
\node[split] (n14x805) at (805,756) {};
\draw (n13x800) -- (n14x805);
\node[split] (n14x864) at (864,756) {};
\draw (n13x868) -- (n14x864);
\node[leaf] (n14x873) at (873,756) {};
\draw (n13x868) -- (n14x873);
\node[leaf] (n14x1041) at (1041,756) {};
\draw (n13x1050) -- (n14x1041);
\node[leaf] (n14x1050) at (1050,756) {};
\draw (n13x1050) -- (n14x1050);
\node[leaf] (n14x1068) at (1068,756) {};
\draw (n13x1077) -- (n14x1068);
\node[leaf] (n14x1077) at (1077,756) {};
\draw (n13x1077) -- (n14x1077);
\node[leaf] (n14x1236) at (1236,756) {};
\draw (n13x1240) -- (n14x1236);
\node[split] (n14x1244) at (1244,756) {};
\draw (n13x1240) -- (n14x1244);
\node[split] (n14x1262) at (1262,756) {};
\draw (n13x1267) -- (n14x1262);
\node[leaf] (n14x1271) at (1271,756) {};
\draw (n13x1267) -- (n14x1271);
\node[leaf] (n14x1280) at (1280,756) {};
\draw (n13x1285) -- (n14x1280);
\node[split] (n14x1290) at (1290,756) {};
\draw (n13x1285) -- (n14x1290);
\node[leaf] (n14x1299) at (1299,756) {};
\draw (n13x1303) -- (n14x1299);
\node[split] (n14x1308) at (1308,756) {};
\draw (n13x1303) -- (n14x1308);
\node[leaf] (n14x1348) at (1348,756) {};
\draw (n13x1353) -- (n14x1348);
\node[leaf] (n14x1356) at (1356,756) {};
\draw (n13x1353) -- (n14x1356);
\node[split] (n14x1367) at (1367,756) {};
\draw (n13x1371) -- (n14x1367);
\node[leaf] (n14x1376) at (1376,756) {};
\draw (n13x1371) -- (n14x1376);
\node[leaf] (n14x1385) at (1385,756) {};
\draw (n13x1389) -- (n14x1385);
\node[split] (n14x1394) at (1394,756) {};
\draw (n13x1389) -- (n14x1394);
\node[split] (n14x1430) at (1430,756) {};
\draw (n13x1435) -- (n14x1430);
\node[leaf] (n14x1443) at (1443,756) {};
\draw (n13x1435) -- (n14x1443);
\node[split] (n14x1471) at (1471,756) {};
\draw (n13x1475) -- (n14x1471);
\node[leaf] (n14x1480) at (1480,756) {};
\draw (n13x1475) -- (n14x1480);
% level 15
\node[leaf] (n15x259) at (259,796) {};
\draw (n14x266) -- (n15x259);
\node[split] (n15x271) at (271,796) {};
\draw (n14x266) -- (n15x271);
\node[leaf] (n15x326) at (326,796) {};
\draw (n14x330) -- (n15x326);
\node[split] (n15x333) at (333,796) {};
\draw (n14x330) -- (n15x333);
\node[leaf] (n15x343) at (343,796) {};
\draw (n14x348) -- (n15x343);
\node[split] (n15x352) at (352,796) {};
\draw (n14x348) -- (n15x352);
\node[leaf] (n15x371) at (371,796) {};
\draw (n14x375) -- (n15x371);
\node[leaf] (n15x379) at (379,796) {};
\draw (n14x375) -- (n15x379);
\node[leaf] (n15x425) at (425,796) {};
\draw (n14x429) -- (n15x425);
\node[split] (n15x432) at (432,796) {};
\draw (n14x429) -- (n15x432);
\node[leaf] (n15x443) at (443,796) {};
\draw (n14x447) -- (n15x443);
\node[split] (n15x452) at (452,796) {};
\draw (n14x447) -- (n15x452);
\node[split] (n15x468) at (468,796) {};
\draw (n14x472) -- (n15x468);
\node[leaf] (n15x479) at (479,796) {};
\draw (n14x472) -- (n15x479);
\node[leaf] (n15x488) at (488,796) {};
\draw (n14x493) -- (n15x488);
\node[leaf] (n15x497) at (497,796) {};
\draw (n14x493) -- (n15x497);
\node[split] (n15x506) at (506,796) {};
\draw (n14x524) -- (n15x506);
\node[split] (n15x542) at (542,796) {};
\draw (n14x524) -- (n15x542);
\node[split] (n15x667) at (667,796) {};
\draw (n14x673) -- (n15x667);
\node[leaf] (n15x677) at (677,796) {};
\draw (n14x673) -- (n15x677);
\node[split] (n15x800) at (800,796) {};
\draw (n14x805) -- (n15x800);
\node[leaf] (n15x809) at (809,796) {};
\draw (n14x805) -- (n15x809);
\node[leaf] (n15x861) at (861,796) {};
\draw (n14x864) -- (n15x861);
\node[leaf] (n15x870) at (870,796) {};
\draw (n14x864) -- (n15x870);
\node[leaf] (n15x1240) at (1240,796) {};
\draw (n14x1244) -- (n15x1240);
\node[split] (n15x1249) at (1249,796) {};
\draw (n14x1244) -- (n15x1249);
\node[leaf] (n15x1258) at (1258,796) {};
\draw (n14x1262) -- (n15x1258);
\node[leaf] (n15x1267) at (1267,796) {};
\draw (n14x1262) -- (n15x1267);
\node[leaf] (n15x1281) at (1281,796) {};
\draw (n14x1290) -- (n15x1281);
\node[leaf] (n15x1290) at (1290,796) {};
\draw (n14x1290) -- (n15x1290);
\node[leaf] (n15x1302) at (1302,796) {};
\draw (n14x1308) -- (n15x1302);
\node[leaf] (n15x1311) at (1311,796) {};
\draw (n14x1308) -- (n15x1311);
\node[split] (n15x1362) at (1362,796) {};
\draw (n14x1367) -- (n15x1362);
\node[leaf] (n15x1371) at (1371,796) {};
\draw (n14x1367) -- (n15x1371);
\node[split] (n15x1388) at (1388,796) {};
\draw (n14x1394) -- (n15x1388);
\node[leaf] (n15x1397) at (1397,796) {};
\draw (n14x1394) -- (n15x1397);
\node[split] (n15x1424) at (1424,796) {};
\draw (n14x1430) -- (n15x1424);
\node[leaf] (n15x1435) at (1435,796) {};
\draw (n14x1430) -- (n15x1435);
\node[leaf] (n15x1467) at (1467,796) {};
\draw (n14x1471) -- (n15x1467);
\node[split] (n15x1475) at (1475,796) {};
\draw (n14x1471) -- (n15x1475);
% level 16
\node[leaf] (n16x266) at (266,836) {};
\draw (n15x271) -- (n16x266);
\node[leaf] (n16x279) at (279,836) {};
\draw (n15x271) -- (n16x279);
\node[leaf] (n16x330) at (330,836) {};
\draw (n15x333) -- (n16x330);
\node[leaf] (n16x339) at (339,836) {};
\draw (n15x333) -- (n16x339);
\node[leaf] (n16x348) at (348,836) {};
\draw (n15x352) -- (n16x348);
\node[split] (n16x356) at (356,836) {};
\draw (n15x352) -- (n16x356);
\node[leaf] (n16x429) at (429,836) {};
\draw (n15x432) -- (n16x429);
\node[split] (n16x438) at (438,836) {};
\draw (n15x432) -- (n16x438);
\node[leaf] (n16x447) at (447,836) {};
\draw (n15x452) -- (n16x447);
\node[leaf] (n16x456) at (456,836) {};
\draw (n15x452) -- (n16x456);
\node[leaf] (n16x465) at (465,836) {};
\draw (n15x468) -- (n16x465);
\node[leaf] (n16x474) at (474,836) {};
\draw (n15x468) -- (n16x474);
\node[leaf] (n16x502) at (502,836) {};
\draw (n15x506) -- (n16x502);
\node[leaf] (n16x511) at (511,836) {};
\draw (n15x506) -- (n16x511);
\node[leaf] (n16x537) at (537,836) {};
\draw (n15x542) -- (n16x537);
\node[leaf] (n16x547) at (547,836) {};
\draw (n15x542) -- (n16x547);
\node[split] (n16x612) at (612,836) {};
\draw (n15x667) -- (n16x612);
\node[split] (n16x725) at (725,836) {};
\draw (n15x667) -- (n16x725);
\node[leaf] (n16x797) at (797,836) {};
\draw (n15x800) -- (n16x797);
\node[split] (n16x805) at (805,836) {};
\draw (n15x800) -- (n16x805);
\node[leaf] (n16x866) at (866,836) {};
\draw (n15x870) -- (n16x866);
\node[leaf] (n16x875) at (875,836) {};
\draw (n15x870) -- (n16x875);
\node[leaf] (n16x1244) at (1244,836) {};
\draw (n15x1249) -- (n16x1244);
\node[leaf] (n16x1253) at (1253,836) {};
\draw (n15x1249) -- (n16x1253);
\node[split] (n16x1355) at (1355,836) {};
\draw (n15x1362) -- (n16x1355);
\node[leaf] (n16x1367) at (1367,836) {};
\draw (n15x1362) -- (n16x1367);
\node[leaf] (n16x1384) at (1384,836) {};
\draw (n15x1388) -- (n16x1384);
\node[leaf] (n16x1393) at (1393,836) {};
\draw (n15x1388) -- (n16x1393);
\node[split] (n16x1403) at (1403,836) {};
\draw (n15x1424) -- (n16x1403);
\node[split] (n16x1448) at (1448,836) {};
\draw (n15x1424) -- (n16x1448);
\node[leaf] (n16x1466) at (1466,836) {};
\draw (n15x1475) -- (n16x1466);
\node[leaf] (n16x1475) at (1475,836) {};
\draw (n15x1475) -- (n16x1475);
% level 17
\node[leaf] (n17x353) at (353,876) {};
\draw (n16x356) -- (n17x353);
\node[leaf] (n17x362) at (362,876) {};
\draw (n16x356) -- (n17x362);
\node[leaf] (n17x434) at (434,876) {};
\draw (n16x438) -- (n17x434);
\node[leaf] (n17x443) at (443,876) {};
\draw (n16x438) -- (n17x443);
\node[leaf] (n17x495) at (495,876) {};
\draw (n16x502) -- (n17x495);
\node[split] (n17x506) at (506,876) {};
\draw (n16x502) -- (n17x506);
\node[split] (n17x542) at (542,876) {};
\draw (n16x547) -- (n17x542);
\node[leaf] (n17x551) at (551,876) {};
\draw (n16x547) -- (n17x551);
\node[split] (n17x592) at (592,876) {};
\draw (n16x612) -- (n17x592);
\node[leaf] (n17x633) at (633,876) {};
\draw (n16x612) -- (n17x633);
\node[split] (n17x692) at (692,876) {};
\draw (n16x725) -- (n17x692);
\node[split] (n17x758) at (758,876) {};
\draw (n16x725) -- (n17x758);
\node[split] (n17x791) at (791,876) {};
\draw (n16x805) -- (n17x791);
\node[split] (n17x819) at (819,876) {};
\draw (n16x805) -- (n17x819);
\node[leaf] (n17x1348) at (1348,876) {};
\draw (n16x1355) -- (n17x1348);
\node[leaf] (n17x1358) at (1358,876) {};
\draw (n16x1355) -- (n17x1358);
\node[split] (n17x1394) at (1394,876) {};
\draw (n16x1403) -- (n17x1394);
\node[split] (n17x1412) at (1412,876) {};
\draw (n16x1403) -- (n17x1412);
\node[leaf] (n17x1439) at (1439,876) {};
\draw (n16x1448) -- (n17x1439);
\node[leaf] (n17x1457) at (1457,876) {};
\draw (n16x1448) -- (n17x1457);
\node[leaf] (n17x1467) at (1467,876) {};
\draw (n16x1475) -- (n17x1467);
\node[split] (n17x1476) at (1476,876) {};
\draw (n16x1475) -- (n17x1476);
% level 18
\node[leaf] (n18x501) at (501,917) {};
\draw (n17x506) -- (n18x501);
\node[leaf] (n18x511) at (511,917) {};
\draw (n17x506) -- (n18x511);
\node[leaf] (n18x529) at (529,917) {};
\draw (n17x542) -- (n18x529);
\node[split] (n18x556) at (556,917) {};
\draw (n17x542) -- (n18x556);
\node[leaf] (n18x588) at (588,917) {};
\draw (n17x592) -- (n18x588);
\node[leaf] (n18x597) at (597,917) {};
\draw (n17x592) -- (n18x597);
\node[leaf] (n18x628) at (628,917) {};
\draw (n17x633) -- (n18x628);
\node[leaf] (n18x638) at (638,917) {};
\draw (n17x633) -- (n18x638);
\node[leaf] (n18x665) at (665,917) {};
\draw (n17x692) -- (n18x665);
\node[leaf] (n18x719) at (719,917) {};
\draw (n17x692) -- (n18x719);
\node[split] (n18x737) at (737,917) {};
\draw (n17x758) -- (n18x737);
\node[split] (n18x778) at (778,917) {};
\draw (n17x758) -- (n18x778);
\node[leaf] (n18x787) at (787,917) {};
\draw (n17x791) -- (n18x787);
\node[leaf] (n18x796) at (796,917) {};
\draw (n17x791) -- (n18x796);
\node[leaf] (n18x809) at (809,917) {};
\draw (n17x819) -- (n18x809);
\node[split] (n18x824) at (824,917) {};
\draw (n17x819) -- (n18x824);
\node[split] (n18x1389) at (1389,917) {};
\draw (n17x1394) -- (n18x1389);
\node[leaf] (n18x1398) at (1398,917) {};
\draw (n17x1394) -- (n18x1398);
\node[leaf] (n18x1408) at (1408,917) {};
\draw (n17x1412) -- (n18x1408);
\node[split] (n18x1416) at (1416,917) {};
\draw (n17x1412) -- (n18x1416);
\node[split] (n18x1434) at (1434,917) {};
\draw (n17x1439) -- (n18x1434);
\node[leaf] (n18x1447) at (1447,917) {};
\draw (n17x1439) -- (n18x1447);
\node[split] (n18x1453) at (1453,917) {};
\draw (n17x1457) -- (n18x1453);
\node[leaf] (n18x1465) at (1465,917) {};
\draw (n17x1457) -- (n18x1465);
\node[leaf] (n18x1470) at (1470,917) {};
\draw (n17x1476) -- (n18x1470);
\node[leaf] (n18x1478) at (1478,917) {};
\draw (n17x1476) -- (n18x1478);
% level 19
\node[leaf] (n19x502) at (502,957) {};
\draw (n18x511) -- (n19x502);
\node[split] (n19x515) at (515,957) {};
\draw (n18x511) -- (n19x515);
\node[leaf] (n19x524) at (524,957) {};
\draw (n18x529) -- (n19x524);
\node[leaf] (n19x533) at (533,957) {};
\draw (n18x529) -- (n19x533);
\node[split] (n19x551) at (551,957) {};
\draw (n18x556) -- (n19x551);
\node[leaf] (n19x559) at (559,957) {};
\draw (n18x556) -- (n19x559);
\node[leaf] (n19x579) at (579,957) {};
\draw (n18x588) -- (n19x579);
\node[split] (n19x597) at (597,957) {};
\draw (n18x588) -- (n19x597);
\node[leaf] (n19x624) at (624,957) {};
\draw (n18x628) -- (n19x624);
\node[leaf] (n19x633) at (633,957) {};
\draw (n18x628) -- (n19x633);
\node[leaf] (n19x661) at (661,957) {};
\draw (n18x665) -- (n19x661);
\node[split] (n19x669) at (669,957) {};
\draw (n18x665) -- (n19x669);
\node[leaf] (n19x715) at (715,957) {};
\draw (n18x719) -- (n19x715);
\node[split] (n19x721) at (721,957) {};
\draw (n18x719) -- (n19x721);
\node[leaf] (n19x733) at (733,957) {};
\draw (n18x737) -- (n19x733);
\node[split] (n19x742) at (742,957) {};
\draw (n18x737) -- (n19x742);
\node[split] (n19x773) at (773,957) {};
\draw (n18x778) -- (n19x773);
\node[leaf] (n19x781) at (781,957) {};
\draw (n18x778) -- (n19x781);
\node[leaf] (n19x787) at (787,957) {};
\draw (n18x796) -- (n19x787);
\node[leaf] (n19x800) at (800,957) {};
\draw (n18x796) -- (n19x800);
\node[leaf] (n19x819) at (819,957) {};
\draw (n18x824) -- (n19x819);
\node[leaf] (n19x827) at (827,957) {};
\draw (n18x824) -- (n19x827);
\node[leaf] (n19x1378) at (1378,957) {};
\draw (n18x1389) -- (n19x1378);
\node[split] (n19x1400) at (1400,957) {};
\draw (n18x1389) -- (n19x1400);
\node[leaf] (n19x1412) at (1412,957) {};
\draw (n18x1416) -- (n19x1412);
\node[leaf] (n19x1420) at (1420,957) {};
\draw (n18x1416) -- (n19x1420);
\node[split] (n19x1428) at (1428,957) {};
\draw (n18x1434) -- (n19x1428);
\node[leaf] (n19x1440) at (1440,957) {};
\draw (n18x1434) -- (n19x1440);
\node[split] (n19x1447) at (1447,957) {};
\draw (n18x1453) -- (n19x1447);
\node[leaf] (n19x1457) at (1457,957) {};
\draw (n18x1453) -- (n19x1457);
% level 20
\node[leaf] (n20x511) at (511,997) {};
\draw (n19x515) -- (n20x511);
\node[leaf] (n20x519) at (519,997) {};
\draw (n19x515) -- (n20x519);
\node[leaf] (n20x529) at (529,997) {};
\draw (n19x533) -- (n20x529);
\node[leaf] (n20x537) at (537,997) {};
\draw (n19x533) -- (n20x537);
\node[leaf] (n20x547) at (547,997) {};
\draw (n19x551) -- (n20x547);
\node[split] (n20x556) at (556,997) {};
\draw (n19x551) -- (n20x556);
\node[leaf] (n20x574) at (574,997) {};
\draw (n19x579) -- (n20x574);
\node[leaf] (n20x583) at (583,997) {};
\draw (n19x579) -- (n20x583);
\node[leaf] (n20x593) at (593,997) {};
\draw (n19x597) -- (n20x593);
\node[split] (n20x601) at (601,997) {};
\draw (n19x597) -- (n20x601);
\node[split] (n20x619) at (619,997) {};
\draw (n19x633) -- (n20x619);
\node[split] (n20x647) at (647,997) {};
\draw (n19x633) -- (n20x647);
\node[leaf] (n20x664) at (664,997) {};
\draw (n19x669) -- (n20x664);
\node[split] (n20x674) at (674,997) {};
\draw (n19x669) -- (n20x674);
\node[leaf] (n20x717) at (717,997) {};
\draw (n19x721) -- (n20x717);
\node[split] (n20x725) at (725,997) {};
\draw (n19x721) -- (n20x725);
\node[leaf] (n20x738) at (738,997) {};
\draw (n19x742) -- (n20x738);
\node[split] (n20x746) at (746,997) {};
\draw (n19x742) -- (n20x746);
\node[split] (n20x764) at (764,997) {};
\draw (n19x773) -- (n20x764);
\node[split] (n20x782) at (782,997) {};
\draw (n19x773) -- (n20x782);
\node[leaf] (n20x792) at (792,997) {};
\draw (n19x800) -- (n20x792);
\node[leaf] (n20x801) at (801,997) {};
\draw (n19x800) -- (n20x801);
\node[leaf] (n20x815) at (815,997) {};
\draw (n19x819) -- (n20x815);
\node[split] (n20x823) at (823,997) {};
\draw (n19x819) -- (n20x823);
\node[split] (n20x1371) at (1371,997) {};
\draw (n19x1378) -- (n20x1371);
\node[leaf] (n20x1379) at (1379,997) {};
\draw (n19x1378) -- (n20x1379);
\node[split] (n20x1391) at (1391,997) {};
\draw (n19x1400) -- (n20x1391);
\node[split] (n20x1410) at (1410,997) {};
\draw (n19x1400) -- (n20x1410);
\node[leaf] (n20x1421) at (1421,997) {};
\draw (n19x1428) -- (n20x1421);
\node[leaf] (n20x1430) at (1430,997) {};
\draw (n19x1428) -- (n20x1430);
\node[leaf] (n20x1439) at (1439,997) {};
\draw (n19x1447) -- (n20x1439);
\node[leaf] (n20x1448) at (1448,997) {};
\draw (n19x1447) -- (n20x1448);
% level 21
\node[leaf] (n21x551) at (551,1037) {};
\draw (n20x556) -- (n21x551);
\node[split] (n21x561) at (561,1037) {};
\draw (n20x556) -- (n21x561);
\node[split] (n21x577) at (577,1037) {};
\draw (n20x583) -- (n21x577);
\node[leaf] (n21x586) at (586,1037) {};
\draw (n20x583) -- (n21x586);
\node[split] (n21x597) at (597,1037) {};
\draw (n20x601) -- (n21x597);
\node[leaf] (n21x605) at (605,1037) {};
\draw (n20x601) -- (n21x605);
\node[leaf] (n21x614) at (614,1037) {};
\draw (n20x619) -- (n21x614);
\node[split] (n21x623) at (623,1037) {};
\draw (n20x619) -- (n21x623);
\node[split] (n21x642) at (642,1037) {};
\draw (n20x647) -- (n21x642);
\node[leaf] (n21x651) at (651,1037) {};
\draw (n20x647) -- (n21x651);
\node[leaf] (n21x660) at (660,1037) {};
\draw (n20x674) -- (n21x660);
\node[split] (n21x687) at (687,1037) {};
\draw (n20x674) -- (n21x687);
\node[split] (n21x723) at (723,1037) {};
\draw (n20x725) -- (n21x723);
\node[leaf] (n21x732) at (732,1037) {};
\draw (n20x725) -- (n21x732);
\node[leaf] (n21x741) at (741,1037) {};
\draw (n20x746) -- (n21x741);
\node[leaf] (n21x750) at (750,1037) {};
\draw (n20x746) -- (n21x750);
\node[leaf] (n21x760) at (760,1037) {};
\draw (n20x764) -- (n21x760);
\node[leaf] (n21x769) at (769,1037) {};
\draw (n20x764) -- (n21x769);
\node[leaf] (n21x778) at (778,1037) {};
\draw (n20x782) -- (n21x778);
\node[leaf] (n21x787) at (787,1037) {};
\draw (n20x782) -- (n21x787);
\node[split] (n21x819) at (819,1037) {};
\draw (n20x823) -- (n21x819);
\node[leaf] (n21x828) at (828,1037) {};
\draw (n20x823) -- (n21x828);
\node[split] (n21x1369) at (1369,1037) {};
\draw (n20x1371) -- (n21x1369);
\node[leaf] (n21x1378) at (1378,1037) {};
\draw (n20x1371) -- (n21x1378);
\node[leaf] (n21x1387) at (1387,1037) {};
\draw (n20x1391) -- (n21x1387);
\node[split] (n21x1396) at (1396,1037) {};
\draw (n20x1391) -- (n21x1396);
\node[leaf] (n21x1405) at (1405,1037) {};
\draw (n20x1410) -- (n21x1405);
\node[split] (n21x1414) at (1414,1037) {};
\draw (n20x1410) -- (n21x1414);
% level 22-26
\node[leaf] (n22x557) at (557,1077) {};
\draw (n21x561) -- (n22x557);
\node[leaf] (n22x565) at (565,1077) {};
\draw (n21x561) -- (n22x565);
\node[split] (n22x572) at (572,1077) {};
\draw (n21x577) -- (n22x572);
\node[leaf] (n22x581) at (581,1077) {};
\draw (n21x577) -- (n22x581);
\node[leaf] (n22x619) at (619,1077) {};
\draw (n21x623) -- (n22x619);
\node[leaf] (n22x628) at (628,1077) {};
\draw (n21x623) -- (n22x628);
\node[split] (n22x636) at (636,1077) {};
\draw (n21x642) -- (n22x636);
\node[leaf] (n22x646) at (646,1077) {};
\draw (n21x642) -- (n22x646);
\node[split] (n22x664) at (664,1077) {};
\draw (n21x687) -- (n22x664);
\node[leaf] (n22x689) at (689,1077) {};
\draw (n21x687) -- (n22x689);
\node[leaf] (n22x719) at (719,1077) {};
\draw (n21x723) -- (n22x719);
\node[split] (n22x728) at (728,1077) {};
\draw (n21x723) -- (n22x728);
\node[leaf] (n22x738) at (738,1077) {};
\draw (n21x741) -- (n22x738);
\node[leaf] (n22x746) at (746,1077) {};
\draw (n21x741) -- (n22x746);
\node[leaf] (n22x1365) at (1365,1077) {};
\draw (n21x1369) -- (n22x1365);
\node[split] (n22x1373) at (1373,1077) {};
\draw (n21x1369) -- (n22x1373);
\node[leaf] (n22x1391) at (1391,1077) {};
\draw (n21x1396) -- (n22x1391);
\node[leaf] (n22x1400) at (1400,1077) {};
\draw (n21x1396) -- (n22x1400);
\node[leaf] (n22x1409) at (1409,1077) {};
\draw (n21x1414) -- (n22x1409);
\node[leaf] (n22x1418) at (1418,1077) {};
\draw (n21x1414) -- (n22x1418);
\node[leaf] (n23x568) at (568,1118) {};
\draw (n22x572) -- (n23x568);
\node[leaf] (n23x577) at (577,1118) {};
\draw (n22x572) -- (n23x577);
\node[leaf] (n23x633) at (633,1118) {};
\draw (n22x636) -- (n23x633);
\node[leaf] (n23x641) at (641,1118) {};
\draw (n22x636) -- (n23x641);
\node[leaf] (n23x655) at (655,1118) {};
\draw (n22x664) -- (n23x655);
\node[split] (n23x676) at (676,1118) {};
\draw (n22x664) -- (n23x676);
\node[split] (n23x705) at (705,1118) {};
\draw (n22x728) -- (n23x705);
\node[split] (n23x730) at (730,1118) {};
\draw (n22x728) -- (n23x730);
\node[leaf] (n23x742) at (742,1118) {};
\draw (n22x746) -- (n23x742);
\node[leaf] (n23x751) at (751,1118) {};
\draw (n22x746) -- (n23x751);
\node[leaf] (n23x1368) at (1368,1118) {};
\draw (n22x1373) -- (n23x1368);
\node[leaf] (n23x1377) at (1377,1118) {};
\draw (n22x1373) -- (n23x1377);
\node[leaf] (n24x666) at (666,1158) {};
\draw (n23x676) -- (n24x666);
\node[split] (n24x683) at (683,1158) {};
\draw (n23x676) -- (n24x683);
\node[leaf] (n24x700) at (700,1158) {};
\draw (n23x705) -- (n24x700);
\node[split] (n24x709) at (709,1158) {};
\draw (n23x705) -- (n24x709);
\node[split] (n25x679) at (679,1198) {};
\draw (n24x683) -- (n25x679);
\node[leaf] (n25x687) at (687,1198) {};
\draw (n24x683) -- (n25x687);
\node[split] (n25x705) at (705,1198) {};
\draw (n24x709) -- (n25x705);
\node[leaf] (n25x713) at (713,1198) {};
\draw (n24x709) -- (n25x713);
\node[leaf] (n26x675) at (675,1238) {};
\draw (n25x679) -- (n26x675);
\node[leaf] (n26x683) at (683,1238) {};
\draw (n25x679) -- (n26x683);
\node[leaf] (n26x700) at (700,1238) {};
\draw (n25x705) -- (n26x700);
\node[leaf] (n26x709) at (709,1238) {};
\draw (n25x705) -- (n26x709);
\end{tikzpicture}
\end{document}
